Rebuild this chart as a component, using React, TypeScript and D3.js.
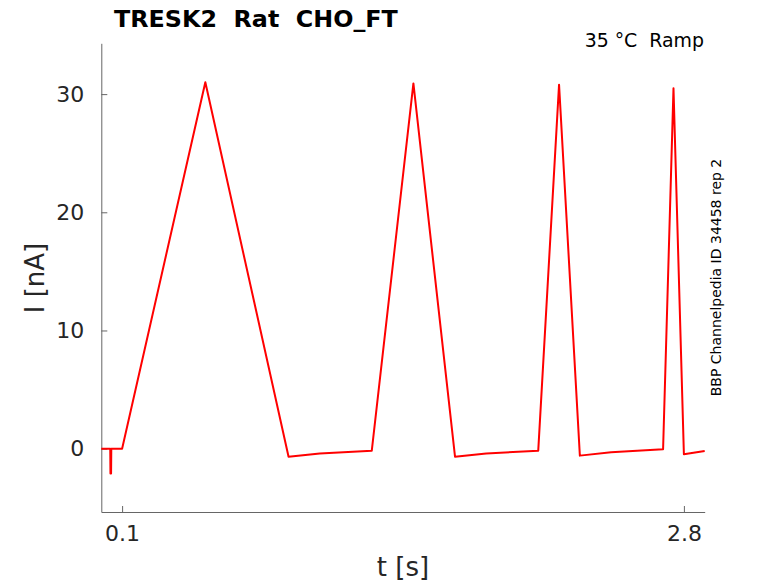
import React, { useRef, useEffect } from 'react';
import * as d3 from 'd3';

// trace: time [s] and current [nA]
const timeS = [
  0, 0.043, 0.044, 0.047, 0.048, 0.1, 0.5, 0.9, 1.05, 1.3, 1.5, 1.7, 1.85, 2.1,
  2.2, 2.3, 2.45, 2.7, 2.75, 2.8, 2.9,
];
const currentNA = [
  0, 0, -2.1, -2.1, 0, 0, 31.0, -0.68, -0.4, -0.17, 30.9, -0.68, -0.4, -0.17,
  30.8, -0.59, -0.3, -0.05, 30.5, -0.47, -0.2,
];
const xTicks = [0.1, 2.8];
const yTicks = [0, 10, 20, 30];

const title = 'TRESK2  Rat  CHO_FT';
const subtitle = '35 °C  Ramp';
const sideNote = 'BBP Channelpedia ID 34458 rep 2';

const width = 778;
const height = 583;
const left = 101.3;
const right = 704.7;
const top = 43.3;
const bottom = 512;
const font = 'DejaVu Sans, sans-serif';

const App: React.FC = () => {
  const gx = useRef<SVGGElement | null>(null);
  const gy = useRef<SVGGElement | null>(null);

  const x = d3.scaleLinear().domain([0, 2.9]).range([left, right]);
  const y = d3.scaleLinear().domain([-5.36, 34.3]).range([bottom, top]);

  const line = d3
    .line<number>()
    .x((_, i) => x(timeS[i]))
    .y((d) => y(d));

  useEffect(() => {
    const style = (g: d3.Selection<SVGGElement, unknown, null, undefined>) => {
      g.select('.domain').attr('stroke', '#666');
      g.selectAll('.tick line').attr('stroke', '#666');
      g.selectAll('.tick text')
        .attr('fill', '#262626')
        .style('font-size', '22px')
        .style('font-family', font);
    };
    if (gx.current) {
      const g = d3.select(gx.current);
      g.call(
        d3
          .axisBottom(x)
          .tickValues(xTicks)
          .tickFormat(d3.format('.1f'))
          .tickSizeInner(-6)
          .tickSizeOuter(0)
          .tickPadding(13)
      );
      style(g);
    }
    if (gy.current) {
      const g = d3.select(gy.current);
      g.call(
        d3
          .axisLeft(y)
          .tickValues(yTicks)
          .tickFormat(d3.format('d'))
          .tickSizeInner(-6)
          .tickSizeOuter(0)
          .tickPadding(17)
      );
      style(g);
    }
  }, []);

  return (
    <svg
      width={width}
      height={height}
      style={{ position: 'absolute', left: 0, top: 0, background: '#fff' }}
    >
      <g ref={gx} transform={`translate(0, ${bottom})`}></g>
      <g ref={gy} transform={`translate(${left}, 0)`}></g>
      <path
        d={line(currentNA) || ''}
        fill='none'
        stroke='#ff0000'
        strokeWidth={2}
        strokeLinejoin='round'
      />
      <text
        x={114}
        y={26.7}
        fontFamily={font}
        fontWeight='bold'
        fontSize={23.8}
        fill='#000'
        style={{ whiteSpace: 'pre' }}
      >
        {title}
      </text>
      <text
        x={704}
        y={47.3}
        textAnchor='end'
        fontFamily={font}
        fontSize={18.9}
        fill='#000'
        style={{ whiteSpace: 'pre' }}
      >
        {subtitle}
      </text>
      <text
        transform={`translate(721, 277.5) rotate(-90)`}
        textAnchor='middle'
        fontFamily={font}
        fontSize={14}
        fill='#000'
      >
        {sideNote}
      </text>
      <text
        x={(left + right) / 2}
        y={576}
        textAnchor='middle'
        fontFamily={font}
        fontSize={26}
        fill='#262626'
      >
        t [s]
      </text>
      <text
        transform={`translate(44, 278) rotate(-90)`}
        textAnchor='middle'
        fontFamily={font}
        fontSize={26}
        fill='#262626'
      >
        I [nA]
      </text>
    </svg>
  );
};

export default App;
